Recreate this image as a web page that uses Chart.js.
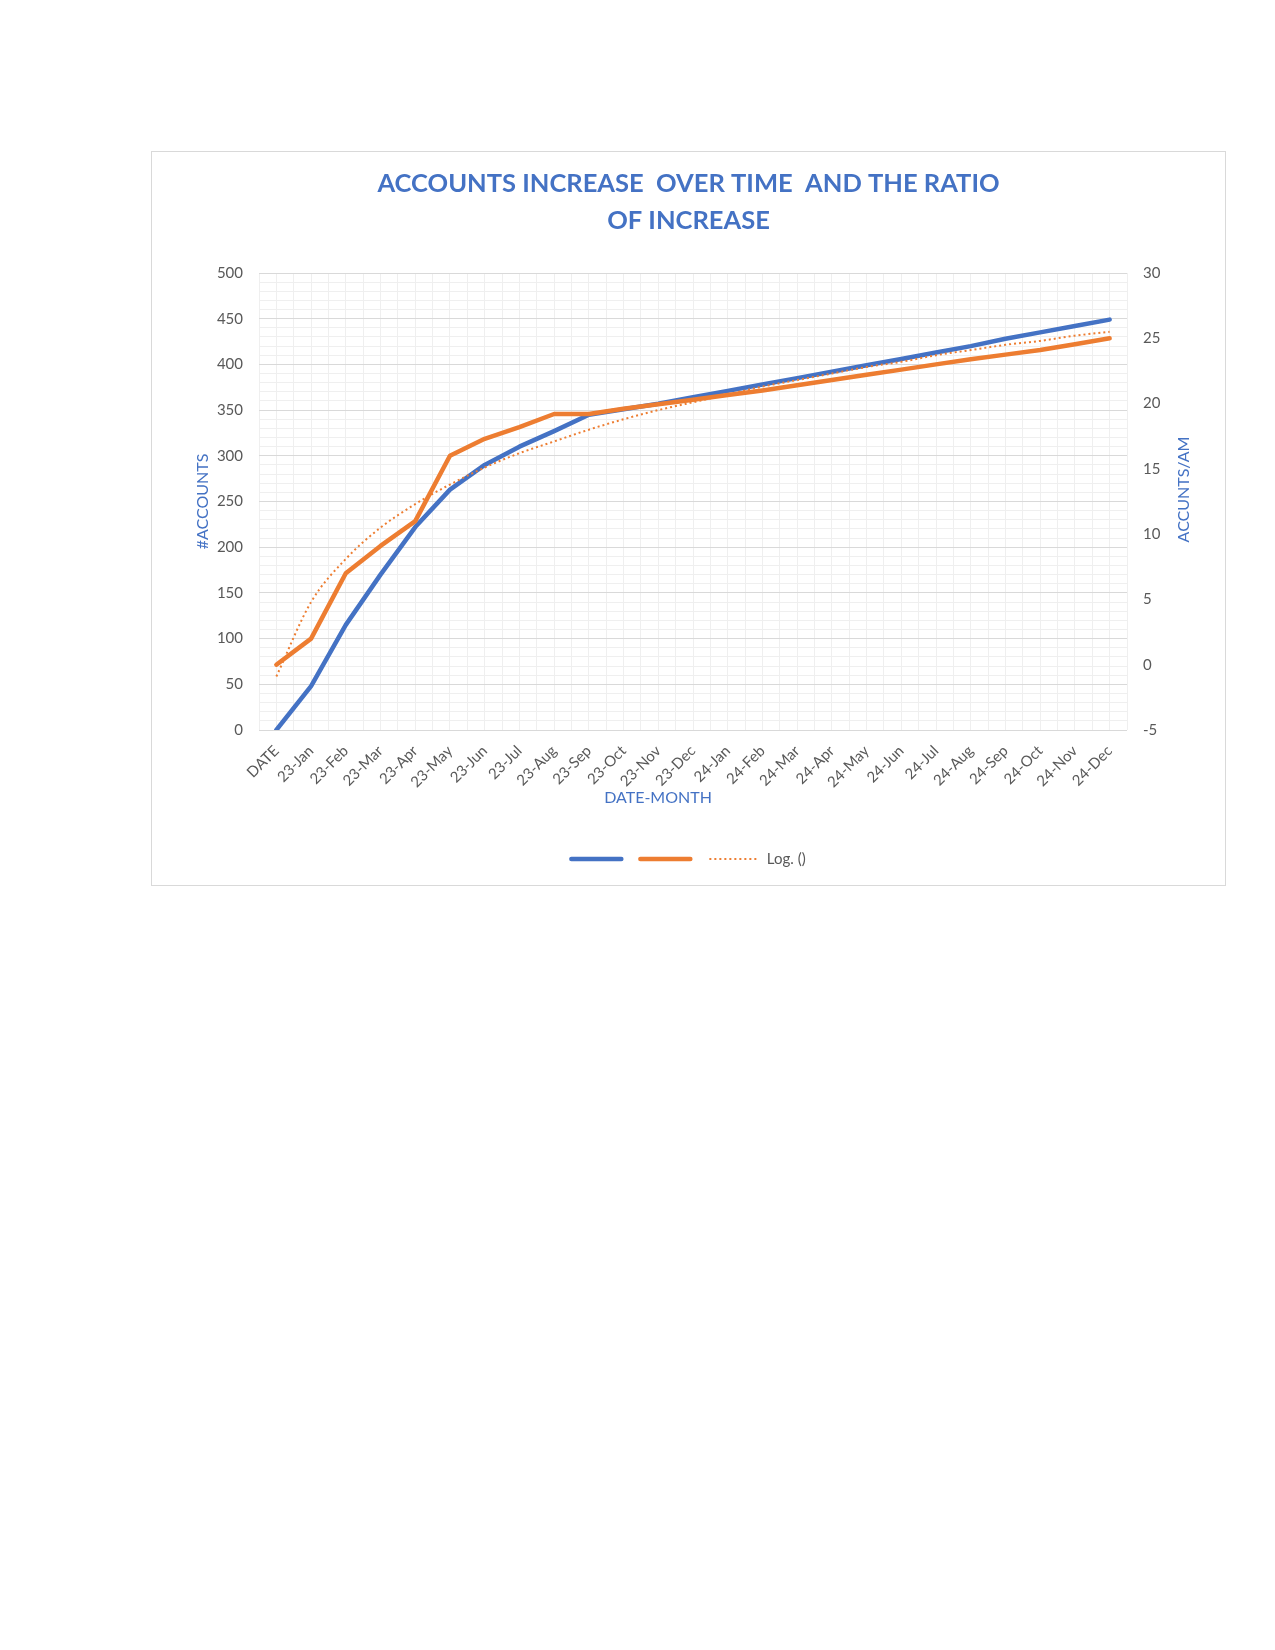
<!DOCTYPE html>
<html>
<head>
<meta charset="utf-8">
<title>Accounts increase over time</title>
<script src="https://cdn.jsdelivr.net/npm/chart.js@4.4.1/dist/chart.umd.min.js"></script>
<style>
  html, body { margin: 0; padding: 0; background: #fff; }
  body { width: 1275px; height: 1650px; position: relative; }
  #box {
    position: absolute;
    left: 151px;
    top: 151px;
    width: 1073px;
    height: 733px;
    border: 1px solid #d9d9d9;
    background: #fff;
  }
  canvas { display: block; }
</style>
</head>
<body>
<div id="box"><canvas id="chart" width="1073" height="733"></canvas></div>
<script>
const months = [
  "DATE",
  "23-Jan", "23-Feb", "23-Mar", "23-Apr", "23-May", "23-Jun",
  "23-Jul", "23-Aug", "23-Sep", "23-Oct", "23-Nov", "23-Dec",
  "24-Jan", "24-Feb", "24-Mar", "24-Apr", "24-May", "24-Jun",
  "24-Jul", "24-Aug", "24-Sep", "24-Oct", "24-Nov", "24-Dec",
];
// #ACCOUNTS (left axis)
const accounts = [
  0, 48, 115, 170, 222, 263, 290, 310, 327, 345, 351, 357, 364,
  371, 378, 385, 392, 399, 406, 413, 420, 428, 435, 442, 449,
];
// ACCUNTS/AM (right axis)
const ratio = [
  0, 2.0, 7.0, 9.1, 11.0, 16.0, 17.3, 18.2, 19.2, 19.2, 19.6, 19.95, 20.3,
  20.65, 21.0, 21.4, 21.8, 22.2, 22.6, 23.0, 23.4, 23.75, 24.1, 24.55, 25.0,
];
// log trendline of the ratio
const ratioTrend = [
  -0.9, 4.8, 8.1, 10.5, 12.3, 13.8, 15.1, 16.2, 17.1, 18.0, 18.8, 19.5, 20.1,
  20.7, 21.3, 21.8, 22.3, 22.8, 23.2, 23.7, 24.1, 24.5, 24.8, 25.2, 25.5,
];

const chartTitle = ["ACCOUNTS INCREASE  OVER TIME  AND THE RATIO", "OF INCREASE"];
const xTitle = "DATE-MONTH";
const yTitle = "#ACCOUNTS";
const y2Title = "ACCUNTS/AM";
const trendLabel = "Log. ()";

const blue = "#4472C4";
const orange = "#ED7D31";
const grey = "#595959";
const majorGrid = "#D9D9D9";
const minorGrid = "#EFEFEF";

// x title sits a bit left of centre, right title a bit above centre
const axisTitles = {
  id: "axisTitles",
  afterDraw(chart) {
    const { ctx, chartArea } = chart;
    ctx.save();
    ctx.font = "16px Lato";
    ctx.fillStyle = blue;
    ctx.textAlign = "center";
    ctx.textBaseline = "middle";
    ctx.fillText(xTitle, (chartArea.left + chartArea.right) / 2 - 35, chartArea.bottom + 68);
    ctx.translate(chartArea.right + 57, (chartArea.top + chartArea.bottom) / 2 - 12);
    ctx.rotate(-Math.PI / 2);
    ctx.fillText(y2Title, 0, 0);
    ctx.restore();
  },
};

new Chart("chart", {
  type: "line",
  data: {
    labels: months,
    datasets: [
      {
        label: "",
        data: accounts,
        yAxisID: "y",
        borderColor: blue,
        backgroundColor: blue,
        borderWidth: 4.5,
        borderCapStyle: "round",
        borderJoinStyle: "round",
        pointRadius: 0,
        tension: 0,
        order: 2,
      },
      {
        label: "",
        data: ratio,
        yAxisID: "y2",
        borderColor: orange,
        backgroundColor: orange,
        borderWidth: 4.5,
        borderCapStyle: "round",
        borderJoinStyle: "round",
        pointRadius: 0,
        tension: 0,
        order: 1,
      },
      {
        label: trendLabel,
        data: ratioTrend,
        yAxisID: "y2",
        borderColor: orange,
        backgroundColor: orange,
        borderWidth: 2,
        borderDash: [2, 3],
        pointRadius: 0,
        cubicInterpolationMode: "monotone",
        order: 0,
      },
    ],
  },
  options: {
    responsive: false,
    animation: false,
    layout: { padding: { top: 0, left: 0, right: 0, bottom: 8.5 } },
    plugins: {
      tooltip: { enabled: false },
      title: {
        display: true,
        text: chartTitle,
        color: blue,
        font: { family: "Lato", size: 25.5, weight: "bold", lineHeight: "37px" },
        padding: { top: 13.5, bottom: 33.5 },
      },
      legend: {
        position: "bottom",
        labels: {
          usePointStyle: true,
          pointStyleWidth: 50,
          padding: 11.5,
          color: grey,
          font: { family: "Lato", size: 15 },
          generateLabels: () => [
            { text: "", fontColor: grey, strokeStyle: blue, fillStyle: blue, lineWidth: 4.5, lineCap: "round", pointStyle: "line", datasetIndex: 0 },
            { text: "", fontColor: grey, strokeStyle: orange, fillStyle: orange, lineWidth: 4.5, lineCap: "round", pointStyle: "line", datasetIndex: 1 },
            { text: trendLabel, fontColor: grey, strokeStyle: orange, fillStyle: orange, lineWidth: 2, lineDash: [2, 3], pointStyle: "line", datasetIndex: 2 },
          ],
        },
      },
    },
    scales: {
      x: {
        type: "category",
        offset: true,
        border: { display: false },
        grid: { offset: false, color: minorGrid, drawTicks: false, z: -2 },
        ticks: {
          color: grey,
          font: { family: "Lato", size: 15 },
          minRotation: 45,
          maxRotation: 45,
          autoSkip: false,
          padding: 12,
        },
        afterFit: (scale) => { scale.height = 110; },
      },
      xMinor: {
        type: "category",
        position: "bottom",
        offset: true,
        border: { display: false },
        grid: { offset: true, color: minorGrid, drawTicks: false, z: -2 },
        ticks: { display: false },
        afterFit: (scale) => { scale.height = 0; },
      },
      y: {
        position: "left",
        min: 0,
        max: 500,
        border: { display: false },
        grid: {
          drawTicks: false,
          color: (c) => (c.tick && c.tick.value % 50 === 0 ? majorGrid : minorGrid),
        },
        ticks: {
          stepSize: 10,
          autoSkip: false,
          color: grey,
          padding: 16,
          font: { family: "Lato", size: 15 },
          callback: (v) => (v % 50 === 0 ? v : ""),
        },
        title: {
          display: true,
          text: yTitle,
          color: blue,
          font: { family: "Lato", size: 16 },
          padding: { top: 41.5, bottom: 0 },
        },
        afterFit: (scale) => { scale.width = 107; },
      },
      y2: {
        position: "right",
        min: -5,
        max: 30,
        border: { display: false },
        grid: { display: false, drawTicks: false },
        ticks: {
          stepSize: 5,
          color: grey,
          padding: 16,
          font: { family: "Lato", size: 15 },
        },
        afterFit: (scale) => { scale.width = 98; },
      },
    },
  },
  plugins: [axisTitles],
});
</script>
</body>
</html>
